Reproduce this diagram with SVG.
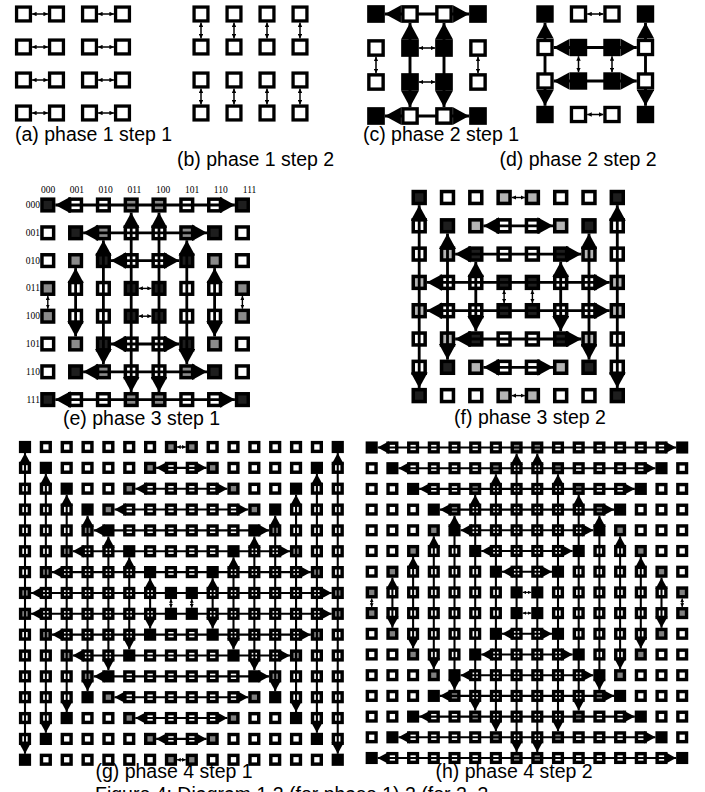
<svg xmlns="http://www.w3.org/2000/svg" width="705" height="792" viewBox="0 0 705 792">
<style>
text{font-family:"Liberation Sans",Arial,sans-serif;font-size:19.5px;fill:#000}
.lb{font-family:"Liberation Serif","Times New Roman",serif;font-size:9.5px}
.n use{fill:#fff;stroke:#000}
.n use.k{fill:#000}
.n use.g{fill:#808080}
#e use.k,#f use.k{fill:#1e1e1e}
#e use.g{fill:#8a8a8a}
#f use.g{fill:#b4b4b4}
.c line{stroke:#000;fill:none}
.d{marker-start:url(#h);marker-end:url(#h)}
.t{marker-start:url(#m);marker-end:url(#m)}
</style>
<defs>
<rect id="s" x="-.21" y="-.21" width=".42" height=".42"/>
<marker id="h" markerWidth="5.5" markerHeight="6" refX="5.5" refY="3" orient="auto-start-reverse"><path d="M0,0L5.5,3L0,6z"/></marker>
<marker id="m" markerWidth="3" markerHeight="3" refX="3" refY="1.5" orient="auto-start-reverse"><path d="M0,0L3,1.5L0,3z"/></marker>
</defs>
<rect width="705" height="792" fill="#fff"/>

<g id="a" transform="translate(23.5,14) scale(33)">
<g class="n" stroke-width=".1">
<g><use id="a0-0" href="#s"/><use id="a0-1" href="#s" x="1"/><use id="a0-2" href="#s" x="2"/><use id="a0-3" href="#s" x="3"/></g>
<g transform="translate(0,1)"><use id="a1-0" href="#s"/><use id="a1-1" href="#s" x="1"/><use id="a1-2" href="#s" x="2"/><use id="a1-3" href="#s" x="3"/></g>
<g transform="translate(0,2)"><use id="a2-0" href="#s"/><use id="a2-1" href="#s" x="1"/><use id="a2-2" href="#s" x="2"/><use id="a2-3" href="#s" x="3"/></g>
<g transform="translate(0,3)"><use id="a3-0" href="#s"/><use id="a3-1" href="#s" x="1"/><use id="a3-2" href="#s" x="2"/><use id="a3-3" href="#s" x="3"/></g>
</g>
<g class="c" stroke-width=".045">
<line class="t" x1=".26" y1="0" x2=".74" y2="0"/><line class="t" x1="2.26" y1="0" x2="2.74" y2="0"/>
<line class="t" x1=".26" y1="1" x2=".74" y2="1"/><line class="t" x1="2.26" y1="1" x2="2.74" y2="1"/>
<line class="t" x1=".26" y1="2" x2=".74" y2="2"/><line class="t" x1="2.26" y1="2" x2="2.74" y2="2"/>
<line class="t" x1=".26" y1="3" x2=".74" y2="3"/><line class="t" x1="2.26" y1="3" x2="2.74" y2="3"/>
</g>
</g>

<g id="b" transform="translate(201,14) scale(33)">
<g class="n" stroke-width=".1">
<g><use id="b0-0" href="#s"/><use id="b0-1" href="#s" x="1"/><use id="b0-2" href="#s" x="2"/><use id="b0-3" href="#s" x="3"/></g>
<g transform="translate(0,1)"><use id="b1-0" href="#s"/><use id="b1-1" href="#s" x="1"/><use id="b1-2" href="#s" x="2"/><use id="b1-3" href="#s" x="3"/></g>
<g transform="translate(0,2)"><use id="b2-0" href="#s"/><use id="b2-1" href="#s" x="1"/><use id="b2-2" href="#s" x="2"/><use id="b2-3" href="#s" x="3"/></g>
<g transform="translate(0,3)"><use id="b3-0" href="#s"/><use id="b3-1" href="#s" x="1"/><use id="b3-2" href="#s" x="2"/><use id="b3-3" href="#s" x="3"/></g>
</g>
<g class="c" stroke-width=".045">
<line class="t" x1="0" y1=".26" x2="0" y2=".74"/><line class="t" x1="0" y1="2.26" x2="0" y2="2.74"/>
<line class="t" x1="1" y1=".26" x2="1" y2=".74"/><line class="t" x1="1" y1="2.26" x2="1" y2="2.74"/>
<line class="t" x1="2" y1=".26" x2="2" y2=".74"/><line class="t" x1="2" y1="2.26" x2="2" y2="2.74"/>
<line class="t" x1="3" y1=".26" x2="3" y2=".74"/><line class="t" x1="3" y1="2.26" x2="3" y2="2.74"/>
</g>
</g>

<g id="c" transform="translate(376,14) scale(34)">
<g class="c" stroke-width=".086">
<line class="d" x1=".26" y1="0" x2="2.74" y2="0"/>
<line class="d" x1=".26" y1="3" x2="2.74" y2="3"/>
<line class="d" x1="1" y1=".26" x2="1" y2="2.74"/>
<line class="d" x1="2" y1=".26" x2="2" y2="2.74"/>
<g stroke-width=".045">
<line class="t" x1="1.26" y1="1" x2="1.74" y2="1"/><line class="t" x1="1.26" y1="2" x2="1.74" y2="2"/>
<line class="t" x1="0" y1="1.26" x2="0" y2="1.74"/><line class="t" x1="3" y1="1.26" x2="3" y2="1.74"/>
</g>
</g>
<g class="n" stroke-width=".1">
<g><use id="c0-0" href="#s" class="k"/><use id="c0-1" href="#s" x="1"/><use id="c0-2" href="#s" x="2"/><use id="c0-3" href="#s" x="3" class="k"/></g>
<g transform="translate(0,1)"><use id="c1-0" href="#s"/><use id="c1-1" href="#s" x="1" class="k"/><use id="c1-2" href="#s" x="2" class="k"/><use id="c1-3" href="#s" x="3"/></g>
<g transform="translate(0,2)"><use id="c2-0" href="#s"/><use id="c2-1" href="#s" x="1" class="k"/><use id="c2-2" href="#s" x="2" class="k"/><use id="c2-3" href="#s" x="3"/></g>
<g transform="translate(0,3)"><use id="c3-0" href="#s" class="k"/><use id="c3-1" href="#s" x="1"/><use id="c3-2" href="#s" x="2"/><use id="c3-3" href="#s" x="3" class="k"/></g>
</g>
</g>

<g id="d" transform="translate(545,14) scale(33.5)">
<g class="c" stroke-width=".086">
<line class="d" x1="0" y1=".26" x2="0" y2="2.74"/>
<line class="d" x1="3" y1=".26" x2="3" y2="2.74"/>
<line class="d" x1=".26" y1="1" x2="2.74" y2="1"/>
<line class="d" x1=".26" y1="2" x2="2.74" y2="2"/>
<g stroke-width=".045">
<line class="t" x1="1.26" y1="0" x2="1.74" y2="0"/><line class="t" x1="1.26" y1="3" x2="1.74" y2="3"/>
<line class="t" x1="1" y1="1.26" x2="1" y2="1.74"/><line class="t" x1="2" y1="1.26" x2="2" y2="1.74"/>
</g>
</g>
<g class="n" stroke-width=".1">
<g><use id="d0-0" href="#s" class="k"/><use id="d0-1" href="#s" x="1"/><use id="d0-2" href="#s" x="2"/><use id="d0-3" href="#s" x="3" class="k"/></g>
<g transform="translate(0,1)"><use id="d1-0" href="#s"/><use id="d1-1" href="#s" x="1" class="k"/><use id="d1-2" href="#s" x="2" class="k"/><use id="d1-3" href="#s" x="3"/></g>
<g transform="translate(0,2)"><use id="d2-0" href="#s"/><use id="d2-1" href="#s" x="1" class="k"/><use id="d2-2" href="#s" x="2" class="k"/><use id="d2-3" href="#s" x="3"/></g>
<g transform="translate(0,3)"><use id="d3-0" href="#s" class="k"/><use id="d3-1" href="#s" x="1"/><use id="d3-2" href="#s" x="2"/><use id="d3-3" href="#s" x="3" class="k"/></g>
</g>
</g>

<g id="elabels">
<text class="lb" x="48" y="193" text-anchor="middle">000</text>
<text class="lb" x="76.8" y="193" text-anchor="middle">001</text>
<text class="lb" x="105.6" y="193" text-anchor="middle">010</text>
<text class="lb" x="134.4" y="193" text-anchor="middle">011</text>
<text class="lb" x="163.2" y="193" text-anchor="middle">100</text>
<text class="lb" x="192" y="193" text-anchor="middle">101</text>
<text class="lb" x="220.8" y="193" text-anchor="middle">110</text>
<text class="lb" x="249.6" y="193" text-anchor="middle">111</text>
<text class="lb" x="40" y="208" text-anchor="end">000</text>
<text class="lb" x="40" y="235.8" text-anchor="end">001</text>
<text class="lb" x="40" y="263.6" text-anchor="end">010</text>
<text class="lb" x="40" y="291.4" text-anchor="end">011</text>
<text class="lb" x="40" y="319.2" text-anchor="end">100</text>
<text class="lb" x="40" y="347" text-anchor="end">101</text>
<text class="lb" x="40" y="374.8" text-anchor="end">110</text>
<text class="lb" x="40" y="402.6" text-anchor="end">111</text>
</g>

<g id="e" transform="translate(47.8,205) scale(27.8)">
<g class="n" stroke-width=".125">
<g><use id="e0-0" href="#s" class="k"/><use id="e0-1" href="#s" x="1"/><use id="e0-2" href="#s" x="2"/><use id="e0-3" href="#s" x="3" class="g"/><use id="e0-4" href="#s" x="4" class="g"/><use id="e0-5" href="#s" x="5"/><use id="e0-6" href="#s" x="6"/><use id="e0-7" href="#s" x="7" class="k"/></g>
<g transform="translate(0,1)"><use id="e1-0" href="#s"/><use id="e1-1" href="#s" x="1" class="k"/><use id="e1-2" href="#s" x="2" class="g"/><use id="e1-3" href="#s" x="3"/><use id="e1-4" href="#s" x="4"/><use id="e1-5" href="#s" x="5" class="g"/><use id="e1-6" href="#s" x="6" class="k"/><use id="e1-7" href="#s" x="7"/></g>
<g transform="translate(0,2)"><use id="e2-0" href="#s"/><use id="e2-1" href="#s" x="1" class="g"/><use id="e2-2" href="#s" x="2" class="k"/><use id="e2-3" href="#s" x="3"/><use id="e2-4" href="#s" x="4"/><use id="e2-5" href="#s" x="5" class="k"/><use id="e2-6" href="#s" x="6" class="g"/><use id="e2-7" href="#s" x="7"/></g>
<g transform="translate(0,3)"><use id="e3-0" href="#s" class="g"/><use id="e3-1" href="#s" x="1"/><use id="e3-2" href="#s" x="2"/><use id="e3-3" href="#s" x="3" class="k"/><use id="e3-4" href="#s" x="4" class="k"/><use id="e3-5" href="#s" x="5"/><use id="e3-6" href="#s" x="6"/><use id="e3-7" href="#s" x="7" class="g"/></g>
<g transform="translate(0,4)"><use id="e4-0" href="#s" class="g"/><use id="e4-1" href="#s" x="1"/><use id="e4-2" href="#s" x="2"/><use id="e4-3" href="#s" x="3" class="k"/><use id="e4-4" href="#s" x="4" class="k"/><use id="e4-5" href="#s" x="5"/><use id="e4-6" href="#s" x="6"/><use id="e4-7" href="#s" x="7" class="g"/></g>
<g transform="translate(0,5)"><use id="e5-0" href="#s"/><use id="e5-1" href="#s" x="1" class="g"/><use id="e5-2" href="#s" x="2" class="k"/><use id="e5-3" href="#s" x="3"/><use id="e5-4" href="#s" x="4"/><use id="e5-5" href="#s" x="5" class="k"/><use id="e5-6" href="#s" x="6" class="g"/><use id="e5-7" href="#s" x="7"/></g>
<g transform="translate(0,6)"><use id="e6-0" href="#s"/><use id="e6-1" href="#s" x="1" class="k"/><use id="e6-2" href="#s" x="2" class="g"/><use id="e6-3" href="#s" x="3"/><use id="e6-4" href="#s" x="4"/><use id="e6-5" href="#s" x="5" class="g"/><use id="e6-6" href="#s" x="6" class="k"/><use id="e6-7" href="#s" x="7"/></g>
<g transform="translate(0,7)"><use id="e7-0" href="#s" class="k"/><use id="e7-1" href="#s" x="1"/><use id="e7-2" href="#s" x="2"/><use id="e7-3" href="#s" x="3" class="g"/><use id="e7-4" href="#s" x="4" class="g"/><use id="e7-5" href="#s" x="5"/><use id="e7-6" href="#s" x="6"/><use id="e7-7" href="#s" x="7" class="k"/></g>
</g>
<g class="c" stroke-width=".1">
<line class="d" x1=".27" y1="0" x2="6.73" y2="0"/>
<line class="d" x1="1.27" y1="1" x2="5.73" y2="1"/>
<line class="d" x1="2.27" y1="2" x2="4.73" y2="2"/>
<line class="d" x1="2.27" y1="5" x2="4.73" y2="5"/>
<line class="d" x1="1.27" y1="6" x2="5.73" y2="6"/>
<line class="d" x1=".27" y1="7" x2="6.73" y2="7"/>
<line class="d" x1="1" y1="2.27" x2="1" y2="4.73"/>
<line class="d" x1="2" y1="1.27" x2="2" y2="5.73"/>
<line class="d" x1="3" y1=".27" x2="3" y2="6.73"/>
<line class="d" x1="4" y1=".27" x2="4" y2="6.73"/>
<line class="d" x1="5" y1="1.27" x2="5" y2="5.73"/>
<line class="d" x1="6" y1="2.27" x2="6" y2="4.73"/>
<g stroke-width=".05">
<line class="t" x1="3.27" y1="3" x2="3.73" y2="3"/><line class="t" x1="3.27" y1="4" x2="3.73" y2="4"/>
<line class="t" x1="0" y1="3.27" x2="0" y2="3.73"/><line class="t" x1="7" y1="3.27" x2="7" y2="3.73"/>
</g>
</g>
</g>

<g id="f" transform="translate(419.2,197.5) scale(28.3)">
<g class="n" stroke-width=".125">
<g><use id="f0-0" href="#s" class="k"/><use id="f0-1" href="#s" x="1"/><use id="f0-2" href="#s" x="2"/><use id="f0-3" href="#s" x="3" class="g"/><use id="f0-4" href="#s" x="4" class="g"/><use id="f0-5" href="#s" x="5"/><use id="f0-6" href="#s" x="6"/><use id="f0-7" href="#s" x="7" class="k"/></g>
<g transform="translate(0,1)"><use id="f1-0" href="#s"/><use id="f1-1" href="#s" x="1" class="k"/><use id="f1-2" href="#s" x="2" class="g"/><use id="f1-3" href="#s" x="3"/><use id="f1-4" href="#s" x="4"/><use id="f1-5" href="#s" x="5" class="g"/><use id="f1-6" href="#s" x="6" class="k"/><use id="f1-7" href="#s" x="7"/></g>
<g transform="translate(0,2)"><use id="f2-0" href="#s"/><use id="f2-1" href="#s" x="1" class="g"/><use id="f2-2" href="#s" x="2" class="k"/><use id="f2-3" href="#s" x="3"/><use id="f2-4" href="#s" x="4"/><use id="f2-5" href="#s" x="5" class="k"/><use id="f2-6" href="#s" x="6" class="g"/><use id="f2-7" href="#s" x="7"/></g>
<g transform="translate(0,3)"><use id="f3-0" href="#s" class="g"/><use id="f3-1" href="#s" x="1"/><use id="f3-2" href="#s" x="2"/><use id="f3-3" href="#s" x="3" class="k"/><use id="f3-4" href="#s" x="4" class="k"/><use id="f3-5" href="#s" x="5"/><use id="f3-6" href="#s" x="6"/><use id="f3-7" href="#s" x="7" class="g"/></g>
<g transform="translate(0,4)"><use id="f4-0" href="#s" class="g"/><use id="f4-1" href="#s" x="1"/><use id="f4-2" href="#s" x="2"/><use id="f4-3" href="#s" x="3" class="k"/><use id="f4-4" href="#s" x="4" class="k"/><use id="f4-5" href="#s" x="5"/><use id="f4-6" href="#s" x="6"/><use id="f4-7" href="#s" x="7" class="g"/></g>
<g transform="translate(0,5)"><use id="f5-0" href="#s"/><use id="f5-1" href="#s" x="1" class="g"/><use id="f5-2" href="#s" x="2" class="k"/><use id="f5-3" href="#s" x="3"/><use id="f5-4" href="#s" x="4"/><use id="f5-5" href="#s" x="5" class="k"/><use id="f5-6" href="#s" x="6" class="g"/><use id="f5-7" href="#s" x="7"/></g>
<g transform="translate(0,6)"><use id="f6-0" href="#s"/><use id="f6-1" href="#s" x="1" class="k"/><use id="f6-2" href="#s" x="2" class="g"/><use id="f6-3" href="#s" x="3"/><use id="f6-4" href="#s" x="4"/><use id="f6-5" href="#s" x="5" class="g"/><use id="f6-6" href="#s" x="6" class="k"/><use id="f6-7" href="#s" x="7"/></g>
<g transform="translate(0,7)"><use id="f7-0" href="#s" class="k"/><use id="f7-1" href="#s" x="1"/><use id="f7-2" href="#s" x="2"/><use id="f7-3" href="#s" x="3" class="g"/><use id="f7-4" href="#s" x="4" class="g"/><use id="f7-5" href="#s" x="5"/><use id="f7-6" href="#s" x="6"/><use id="f7-7" href="#s" x="7" class="k"/></g>
</g>
<g class="c" stroke-width=".1">
<line class="d" x1="0" y1=".27" x2="0" y2="6.73"/>
<line class="d" x1="1" y1="1.27" x2="1" y2="5.73"/>
<line class="d" x1="2" y1="2.27" x2="2" y2="4.73"/>
<line class="d" x1="5" y1="2.27" x2="5" y2="4.73"/>
<line class="d" x1="6" y1="1.27" x2="6" y2="5.73"/>
<line class="d" x1="7" y1=".27" x2="7" y2="6.73"/>
<line class="d" x1="2.27" y1="1" x2="4.73" y2="1"/>
<line class="d" x1="1.27" y1="2" x2="5.73" y2="2"/>
<line class="d" x1=".27" y1="3" x2="6.73" y2="3"/>
<line class="d" x1=".27" y1="4" x2="6.73" y2="4"/>
<line class="d" x1="1.27" y1="5" x2="5.73" y2="5"/>
<line class="d" x1="2.27" y1="6" x2="4.73" y2="6"/>
<g stroke-width=".05">
<line class="t" x1="3" y1="3.27" x2="3" y2="3.73"/><line class="t" x1="4" y1="3.27" x2="4" y2="3.73"/>
<line class="t" x1="3.27" y1="0" x2="3.73" y2="0"/><line class="t" x1="3.27" y1="7" x2="3.73" y2="7"/>
</g>
</g>
</g>

<g id="g" transform="translate(25,447) scale(20.85)">
<g class="n" stroke-width=".165">
<g><use id="g0-0" href="#s" class="k"/><use id="g0-1" href="#s" x="1"/><use id="g0-2" href="#s" x="2"/><use id="g0-3" href="#s" x="3"/><use id="g0-4" href="#s" x="4"/><use id="g0-5" href="#s" x="5"/><use id="g0-6" href="#s" x="6"/><use id="g0-7" href="#s" x="7" class="g"/><use id="g0-8" href="#s" x="8" class="g"/><use id="g0-9" href="#s" x="9"/><use id="g0-10" href="#s" x="10"/><use id="g0-11" href="#s" x="11"/><use id="g0-12" href="#s" x="12"/><use id="g0-13" href="#s" x="13"/><use id="g0-14" href="#s" x="14"/><use id="g0-15" href="#s" x="15" class="k"/></g>
<g transform="translate(0,1)"><use id="g1-0" href="#s"/><use id="g1-1" href="#s" x="1" class="k"/><use id="g1-2" href="#s" x="2"/><use id="g1-3" href="#s" x="3"/><use id="g1-4" href="#s" x="4"/><use id="g1-5" href="#s" x="5"/><use id="g1-6" href="#s" x="6" class="g"/><use id="g1-7" href="#s" x="7"/><use id="g1-8" href="#s" x="8"/><use id="g1-9" href="#s" x="9" class="g"/><use id="g1-10" href="#s" x="10"/><use id="g1-11" href="#s" x="11"/><use id="g1-12" href="#s" x="12"/><use id="g1-13" href="#s" x="13"/><use id="g1-14" href="#s" x="14" class="k"/><use id="g1-15" href="#s" x="15"/></g>
<g transform="translate(0,2)"><use id="g2-0" href="#s"/><use id="g2-1" href="#s" x="1"/><use id="g2-2" href="#s" x="2" class="k"/><use id="g2-3" href="#s" x="3"/><use id="g2-4" href="#s" x="4"/><use id="g2-5" href="#s" x="5" class="g"/><use id="g2-6" href="#s" x="6"/><use id="g2-7" href="#s" x="7"/><use id="g2-8" href="#s" x="8"/><use id="g2-9" href="#s" x="9"/><use id="g2-10" href="#s" x="10" class="g"/><use id="g2-11" href="#s" x="11"/><use id="g2-12" href="#s" x="12"/><use id="g2-13" href="#s" x="13" class="k"/><use id="g2-14" href="#s" x="14"/><use id="g2-15" href="#s" x="15"/></g>
<g transform="translate(0,3)"><use id="g3-0" href="#s"/><use id="g3-1" href="#s" x="1"/><use id="g3-2" href="#s" x="2"/><use id="g3-3" href="#s" x="3" class="k"/><use id="g3-4" href="#s" x="4" class="g"/><use id="g3-5" href="#s" x="5"/><use id="g3-6" href="#s" x="6"/><use id="g3-7" href="#s" x="7"/><use id="g3-8" href="#s" x="8"/><use id="g3-9" href="#s" x="9"/><use id="g3-10" href="#s" x="10"/><use id="g3-11" href="#s" x="11" class="g"/><use id="g3-12" href="#s" x="12" class="k"/><use id="g3-13" href="#s" x="13"/><use id="g3-14" href="#s" x="14"/><use id="g3-15" href="#s" x="15"/></g>
<g transform="translate(0,4)"><use id="g4-0" href="#s"/><use id="g4-1" href="#s" x="1"/><use id="g4-2" href="#s" x="2"/><use id="g4-3" href="#s" x="3" class="g"/><use id="g4-4" href="#s" x="4" class="k"/><use id="g4-5" href="#s" x="5"/><use id="g4-6" href="#s" x="6"/><use id="g4-7" href="#s" x="7"/><use id="g4-8" href="#s" x="8"/><use id="g4-9" href="#s" x="9"/><use id="g4-10" href="#s" x="10"/><use id="g4-11" href="#s" x="11" class="k"/><use id="g4-12" href="#s" x="12" class="g"/><use id="g4-13" href="#s" x="13"/><use id="g4-14" href="#s" x="14"/><use id="g4-15" href="#s" x="15"/></g>
<g transform="translate(0,5)"><use id="g5-0" href="#s"/><use id="g5-1" href="#s" x="1"/><use id="g5-2" href="#s" x="2" class="g"/><use id="g5-3" href="#s" x="3"/><use id="g5-4" href="#s" x="4"/><use id="g5-5" href="#s" x="5" class="k"/><use id="g5-6" href="#s" x="6"/><use id="g5-7" href="#s" x="7"/><use id="g5-8" href="#s" x="8"/><use id="g5-9" href="#s" x="9"/><use id="g5-10" href="#s" x="10" class="k"/><use id="g5-11" href="#s" x="11"/><use id="g5-12" href="#s" x="12"/><use id="g5-13" href="#s" x="13" class="g"/><use id="g5-14" href="#s" x="14"/><use id="g5-15" href="#s" x="15"/></g>
<g transform="translate(0,6)"><use id="g6-0" href="#s"/><use id="g6-1" href="#s" x="1" class="g"/><use id="g6-2" href="#s" x="2"/><use id="g6-3" href="#s" x="3"/><use id="g6-4" href="#s" x="4"/><use id="g6-5" href="#s" x="5"/><use id="g6-6" href="#s" x="6" class="k"/><use id="g6-7" href="#s" x="7"/><use id="g6-8" href="#s" x="8"/><use id="g6-9" href="#s" x="9" class="k"/><use id="g6-10" href="#s" x="10"/><use id="g6-11" href="#s" x="11"/><use id="g6-12" href="#s" x="12"/><use id="g6-13" href="#s" x="13"/><use id="g6-14" href="#s" x="14" class="g"/><use id="g6-15" href="#s" x="15"/></g>
<g transform="translate(0,7)"><use id="g7-0" href="#s" class="g"/><use id="g7-1" href="#s" x="1"/><use id="g7-2" href="#s" x="2"/><use id="g7-3" href="#s" x="3"/><use id="g7-4" href="#s" x="4"/><use id="g7-5" href="#s" x="5"/><use id="g7-6" href="#s" x="6"/><use id="g7-7" href="#s" x="7" class="k"/><use id="g7-8" href="#s" x="8" class="k"/><use id="g7-9" href="#s" x="9"/><use id="g7-10" href="#s" x="10"/><use id="g7-11" href="#s" x="11"/><use id="g7-12" href="#s" x="12"/><use id="g7-13" href="#s" x="13"/><use id="g7-14" href="#s" x="14"/><use id="g7-15" href="#s" x="15" class="g"/></g>
<g transform="translate(0,8)"><use id="g8-0" href="#s" class="g"/><use id="g8-1" href="#s" x="1"/><use id="g8-2" href="#s" x="2"/><use id="g8-3" href="#s" x="3"/><use id="g8-4" href="#s" x="4"/><use id="g8-5" href="#s" x="5"/><use id="g8-6" href="#s" x="6"/><use id="g8-7" href="#s" x="7" class="k"/><use id="g8-8" href="#s" x="8" class="k"/><use id="g8-9" href="#s" x="9"/><use id="g8-10" href="#s" x="10"/><use id="g8-11" href="#s" x="11"/><use id="g8-12" href="#s" x="12"/><use id="g8-13" href="#s" x="13"/><use id="g8-14" href="#s" x="14"/><use id="g8-15" href="#s" x="15" class="g"/></g>
<g transform="translate(0,9)"><use id="g9-0" href="#s"/><use id="g9-1" href="#s" x="1" class="g"/><use id="g9-2" href="#s" x="2"/><use id="g9-3" href="#s" x="3"/><use id="g9-4" href="#s" x="4"/><use id="g9-5" href="#s" x="5"/><use id="g9-6" href="#s" x="6" class="k"/><use id="g9-7" href="#s" x="7"/><use id="g9-8" href="#s" x="8"/><use id="g9-9" href="#s" x="9" class="k"/><use id="g9-10" href="#s" x="10"/><use id="g9-11" href="#s" x="11"/><use id="g9-12" href="#s" x="12"/><use id="g9-13" href="#s" x="13"/><use id="g9-14" href="#s" x="14" class="g"/><use id="g9-15" href="#s" x="15"/></g>
<g transform="translate(0,10)"><use id="g10-0" href="#s"/><use id="g10-1" href="#s" x="1"/><use id="g10-2" href="#s" x="2" class="g"/><use id="g10-3" href="#s" x="3"/><use id="g10-4" href="#s" x="4"/><use id="g10-5" href="#s" x="5" class="k"/><use id="g10-6" href="#s" x="6"/><use id="g10-7" href="#s" x="7"/><use id="g10-8" href="#s" x="8"/><use id="g10-9" href="#s" x="9"/><use id="g10-10" href="#s" x="10" class="k"/><use id="g10-11" href="#s" x="11"/><use id="g10-12" href="#s" x="12"/><use id="g10-13" href="#s" x="13" class="g"/><use id="g10-14" href="#s" x="14"/><use id="g10-15" href="#s" x="15"/></g>
<g transform="translate(0,11)"><use id="g11-0" href="#s"/><use id="g11-1" href="#s" x="1"/><use id="g11-2" href="#s" x="2"/><use id="g11-3" href="#s" x="3" class="g"/><use id="g11-4" href="#s" x="4" class="k"/><use id="g11-5" href="#s" x="5"/><use id="g11-6" href="#s" x="6"/><use id="g11-7" href="#s" x="7"/><use id="g11-8" href="#s" x="8"/><use id="g11-9" href="#s" x="9"/><use id="g11-10" href="#s" x="10"/><use id="g11-11" href="#s" x="11" class="k"/><use id="g11-12" href="#s" x="12" class="g"/><use id="g11-13" href="#s" x="13"/><use id="g11-14" href="#s" x="14"/><use id="g11-15" href="#s" x="15"/></g>
<g transform="translate(0,12)"><use id="g12-0" href="#s"/><use id="g12-1" href="#s" x="1"/><use id="g12-2" href="#s" x="2"/><use id="g12-3" href="#s" x="3" class="k"/><use id="g12-4" href="#s" x="4" class="g"/><use id="g12-5" href="#s" x="5"/><use id="g12-6" href="#s" x="6"/><use id="g12-7" href="#s" x="7"/><use id="g12-8" href="#s" x="8"/><use id="g12-9" href="#s" x="9"/><use id="g12-10" href="#s" x="10"/><use id="g12-11" href="#s" x="11" class="g"/><use id="g12-12" href="#s" x="12" class="k"/><use id="g12-13" href="#s" x="13"/><use id="g12-14" href="#s" x="14"/><use id="g12-15" href="#s" x="15"/></g>
<g transform="translate(0,13)"><use id="g13-0" href="#s"/><use id="g13-1" href="#s" x="1"/><use id="g13-2" href="#s" x="2" class="k"/><use id="g13-3" href="#s" x="3"/><use id="g13-4" href="#s" x="4"/><use id="g13-5" href="#s" x="5" class="g"/><use id="g13-6" href="#s" x="6"/><use id="g13-7" href="#s" x="7"/><use id="g13-8" href="#s" x="8"/><use id="g13-9" href="#s" x="9"/><use id="g13-10" href="#s" x="10" class="g"/><use id="g13-11" href="#s" x="11"/><use id="g13-12" href="#s" x="12"/><use id="g13-13" href="#s" x="13" class="k"/><use id="g13-14" href="#s" x="14"/><use id="g13-15" href="#s" x="15"/></g>
<g transform="translate(0,14)"><use id="g14-0" href="#s"/><use id="g14-1" href="#s" x="1" class="k"/><use id="g14-2" href="#s" x="2"/><use id="g14-3" href="#s" x="3"/><use id="g14-4" href="#s" x="4"/><use id="g14-5" href="#s" x="5"/><use id="g14-6" href="#s" x="6" class="g"/><use id="g14-7" href="#s" x="7"/><use id="g14-8" href="#s" x="8"/><use id="g14-9" href="#s" x="9" class="g"/><use id="g14-10" href="#s" x="10"/><use id="g14-11" href="#s" x="11"/><use id="g14-12" href="#s" x="12"/><use id="g14-13" href="#s" x="13"/><use id="g14-14" href="#s" x="14" class="k"/><use id="g14-15" href="#s" x="15"/></g>
<g transform="translate(0,15)"><use id="g15-0" href="#s" class="k"/><use id="g15-1" href="#s" x="1"/><use id="g15-2" href="#s" x="2"/><use id="g15-3" href="#s" x="3"/><use id="g15-4" href="#s" x="4"/><use id="g15-5" href="#s" x="5"/><use id="g15-6" href="#s" x="6"/><use id="g15-7" href="#s" x="7" class="g"/><use id="g15-8" href="#s" x="8" class="g"/><use id="g15-9" href="#s" x="9"/><use id="g15-10" href="#s" x="10"/><use id="g15-11" href="#s" x="11"/><use id="g15-12" href="#s" x="12"/><use id="g15-13" href="#s" x="13"/><use id="g15-14" href="#s" x="14"/><use id="g15-15" href="#s" x="15" class="k"/></g>
</g>
<g class="c" stroke-width=".1">
<line class="d" x1="0" y1=".29" x2="0" y2="14.71"/>
<line class="d" x1="1" y1="1.29" x2="1" y2="13.71"/>
<line class="d" x1="2" y1="2.29" x2="2" y2="12.71"/>
<line class="d" x1="3" y1="3.29" x2="3" y2="11.71"/>
<line class="d" x1="4" y1="4.29" x2="4" y2="10.71"/>
<line class="d" x1="5" y1="5.29" x2="5" y2="9.71"/>
<line class="d" x1="6" y1="6.29" x2="6" y2="8.71"/>
<line class="d" x1="9" y1="6.29" x2="9" y2="8.71"/>
<line class="d" x1="10" y1="5.29" x2="10" y2="9.71"/>
<line class="d" x1="11" y1="4.29" x2="11" y2="10.71"/>
<line class="d" x1="12" y1="3.29" x2="12" y2="11.71"/>
<line class="d" x1="13" y1="2.29" x2="13" y2="12.71"/>
<line class="d" x1="14" y1="1.29" x2="14" y2="13.71"/>
<line class="d" x1="15" y1=".29" x2="15" y2="14.71"/>
<line class="d" x1="6.29" y1="1" x2="8.71" y2="1"/>
<line class="d" x1="5.29" y1="2" x2="9.71" y2="2"/>
<line class="d" x1="4.29" y1="3" x2="10.71" y2="3"/>
<line class="d" x1="3.29" y1="4" x2="11.71" y2="4"/>
<line class="d" x1="2.29" y1="5" x2="12.71" y2="5"/>
<line class="d" x1="1.29" y1="6" x2="13.71" y2="6"/>
<line class="d" x1=".29" y1="7" x2="14.71" y2="7"/>
<line class="d" x1=".29" y1="8" x2="14.71" y2="8"/>
<line class="d" x1="1.29" y1="9" x2="13.71" y2="9"/>
<line class="d" x1="2.29" y1="10" x2="12.71" y2="10"/>
<line class="d" x1="3.29" y1="11" x2="11.71" y2="11"/>
<line class="d" x1="4.29" y1="12" x2="10.71" y2="12"/>
<line class="d" x1="5.29" y1="13" x2="9.71" y2="13"/>
<line class="d" x1="6.29" y1="14" x2="8.71" y2="14"/>
<g stroke-width=".06">
<line class="t" x1="7.29" y1="0" x2="7.71" y2="0"/><line class="t" x1="7.29" y1="15" x2="7.71" y2="15"/>
<line class="t" x1="7" y1="7.29" x2="7" y2="7.71"/><line class="t" x1="8" y1="7.29" x2="8" y2="7.71"/>
</g>
</g>
</g>

<g id="h" transform="translate(371.7,447.5) scale(20.7)">
<g class="n" stroke-width=".165">
<g><use id="h0-0" href="#s" class="k"/><use id="h0-1" href="#s" x="1"/><use id="h0-2" href="#s" x="2"/><use id="h0-3" href="#s" x="3"/><use id="h0-4" href="#s" x="4"/><use id="h0-5" href="#s" x="5"/><use id="h0-6" href="#s" x="6"/><use id="h0-7" href="#s" x="7" class="g"/><use id="h0-8" href="#s" x="8" class="g"/><use id="h0-9" href="#s" x="9"/><use id="h0-10" href="#s" x="10"/><use id="h0-11" href="#s" x="11"/><use id="h0-12" href="#s" x="12"/><use id="h0-13" href="#s" x="13"/><use id="h0-14" href="#s" x="14"/><use id="h0-15" href="#s" x="15" class="k"/></g>
<g transform="translate(0,1)"><use id="h1-0" href="#s"/><use id="h1-1" href="#s" x="1" class="k"/><use id="h1-2" href="#s" x="2"/><use id="h1-3" href="#s" x="3"/><use id="h1-4" href="#s" x="4"/><use id="h1-5" href="#s" x="5"/><use id="h1-6" href="#s" x="6" class="g"/><use id="h1-7" href="#s" x="7"/><use id="h1-8" href="#s" x="8"/><use id="h1-9" href="#s" x="9" class="g"/><use id="h1-10" href="#s" x="10"/><use id="h1-11" href="#s" x="11"/><use id="h1-12" href="#s" x="12"/><use id="h1-13" href="#s" x="13"/><use id="h1-14" href="#s" x="14" class="k"/><use id="h1-15" href="#s" x="15"/></g>
<g transform="translate(0,2)"><use id="h2-0" href="#s"/><use id="h2-1" href="#s" x="1"/><use id="h2-2" href="#s" x="2" class="k"/><use id="h2-3" href="#s" x="3"/><use id="h2-4" href="#s" x="4"/><use id="h2-5" href="#s" x="5" class="g"/><use id="h2-6" href="#s" x="6"/><use id="h2-7" href="#s" x="7"/><use id="h2-8" href="#s" x="8"/><use id="h2-9" href="#s" x="9"/><use id="h2-10" href="#s" x="10" class="g"/><use id="h2-11" href="#s" x="11"/><use id="h2-12" href="#s" x="12"/><use id="h2-13" href="#s" x="13" class="k"/><use id="h2-14" href="#s" x="14"/><use id="h2-15" href="#s" x="15"/></g>
<g transform="translate(0,3)"><use id="h3-0" href="#s"/><use id="h3-1" href="#s" x="1"/><use id="h3-2" href="#s" x="2"/><use id="h3-3" href="#s" x="3" class="k"/><use id="h3-4" href="#s" x="4" class="g"/><use id="h3-5" href="#s" x="5"/><use id="h3-6" href="#s" x="6"/><use id="h3-7" href="#s" x="7"/><use id="h3-8" href="#s" x="8"/><use id="h3-9" href="#s" x="9"/><use id="h3-10" href="#s" x="10"/><use id="h3-11" href="#s" x="11" class="g"/><use id="h3-12" href="#s" x="12" class="k"/><use id="h3-13" href="#s" x="13"/><use id="h3-14" href="#s" x="14"/><use id="h3-15" href="#s" x="15"/></g>
<g transform="translate(0,4)"><use id="h4-0" href="#s"/><use id="h4-1" href="#s" x="1"/><use id="h4-2" href="#s" x="2"/><use id="h4-3" href="#s" x="3" class="g"/><use id="h4-4" href="#s" x="4" class="k"/><use id="h4-5" href="#s" x="5"/><use id="h4-6" href="#s" x="6"/><use id="h4-7" href="#s" x="7"/><use id="h4-8" href="#s" x="8"/><use id="h4-9" href="#s" x="9"/><use id="h4-10" href="#s" x="10"/><use id="h4-11" href="#s" x="11" class="k"/><use id="h4-12" href="#s" x="12" class="g"/><use id="h4-13" href="#s" x="13"/><use id="h4-14" href="#s" x="14"/><use id="h4-15" href="#s" x="15"/></g>
<g transform="translate(0,5)"><use id="h5-0" href="#s"/><use id="h5-1" href="#s" x="1"/><use id="h5-2" href="#s" x="2" class="g"/><use id="h5-3" href="#s" x="3"/><use id="h5-4" href="#s" x="4"/><use id="h5-5" href="#s" x="5" class="k"/><use id="h5-6" href="#s" x="6"/><use id="h5-7" href="#s" x="7"/><use id="h5-8" href="#s" x="8"/><use id="h5-9" href="#s" x="9"/><use id="h5-10" href="#s" x="10" class="k"/><use id="h5-11" href="#s" x="11"/><use id="h5-12" href="#s" x="12"/><use id="h5-13" href="#s" x="13" class="g"/><use id="h5-14" href="#s" x="14"/><use id="h5-15" href="#s" x="15"/></g>
<g transform="translate(0,6)"><use id="h6-0" href="#s"/><use id="h6-1" href="#s" x="1" class="g"/><use id="h6-2" href="#s" x="2"/><use id="h6-3" href="#s" x="3"/><use id="h6-4" href="#s" x="4"/><use id="h6-5" href="#s" x="5"/><use id="h6-6" href="#s" x="6" class="k"/><use id="h6-7" href="#s" x="7"/><use id="h6-8" href="#s" x="8"/><use id="h6-9" href="#s" x="9" class="k"/><use id="h6-10" href="#s" x="10"/><use id="h6-11" href="#s" x="11"/><use id="h6-12" href="#s" x="12"/><use id="h6-13" href="#s" x="13"/><use id="h6-14" href="#s" x="14" class="g"/><use id="h6-15" href="#s" x="15"/></g>
<g transform="translate(0,7)"><use id="h7-0" href="#s" class="g"/><use id="h7-1" href="#s" x="1"/><use id="h7-2" href="#s" x="2"/><use id="h7-3" href="#s" x="3"/><use id="h7-4" href="#s" x="4"/><use id="h7-5" href="#s" x="5"/><use id="h7-6" href="#s" x="6"/><use id="h7-7" href="#s" x="7" class="k"/><use id="h7-8" href="#s" x="8" class="k"/><use id="h7-9" href="#s" x="9"/><use id="h7-10" href="#s" x="10"/><use id="h7-11" href="#s" x="11"/><use id="h7-12" href="#s" x="12"/><use id="h7-13" href="#s" x="13"/><use id="h7-14" href="#s" x="14"/><use id="h7-15" href="#s" x="15" class="g"/></g>
<g transform="translate(0,8)"><use id="h8-0" href="#s" class="g"/><use id="h8-1" href="#s" x="1"/><use id="h8-2" href="#s" x="2"/><use id="h8-3" href="#s" x="3"/><use id="h8-4" href="#s" x="4"/><use id="h8-5" href="#s" x="5"/><use id="h8-6" href="#s" x="6"/><use id="h8-7" href="#s" x="7" class="k"/><use id="h8-8" href="#s" x="8" class="k"/><use id="h8-9" href="#s" x="9"/><use id="h8-10" href="#s" x="10"/><use id="h8-11" href="#s" x="11"/><use id="h8-12" href="#s" x="12"/><use id="h8-13" href="#s" x="13"/><use id="h8-14" href="#s" x="14"/><use id="h8-15" href="#s" x="15" class="g"/></g>
<g transform="translate(0,9)"><use id="h9-0" href="#s"/><use id="h9-1" href="#s" x="1" class="g"/><use id="h9-2" href="#s" x="2"/><use id="h9-3" href="#s" x="3"/><use id="h9-4" href="#s" x="4"/><use id="h9-5" href="#s" x="5"/><use id="h9-6" href="#s" x="6" class="k"/><use id="h9-7" href="#s" x="7"/><use id="h9-8" href="#s" x="8"/><use id="h9-9" href="#s" x="9" class="k"/><use id="h9-10" href="#s" x="10"/><use id="h9-11" href="#s" x="11"/><use id="h9-12" href="#s" x="12"/><use id="h9-13" href="#s" x="13"/><use id="h9-14" href="#s" x="14" class="g"/><use id="h9-15" href="#s" x="15"/></g>
<g transform="translate(0,10)"><use id="h10-0" href="#s"/><use id="h10-1" href="#s" x="1"/><use id="h10-2" href="#s" x="2" class="g"/><use id="h10-3" href="#s" x="3"/><use id="h10-4" href="#s" x="4"/><use id="h10-5" href="#s" x="5" class="k"/><use id="h10-6" href="#s" x="6"/><use id="h10-7" href="#s" x="7"/><use id="h10-8" href="#s" x="8"/><use id="h10-9" href="#s" x="9"/><use id="h10-10" href="#s" x="10" class="k"/><use id="h10-11" href="#s" x="11"/><use id="h10-12" href="#s" x="12"/><use id="h10-13" href="#s" x="13" class="g"/><use id="h10-14" href="#s" x="14"/><use id="h10-15" href="#s" x="15"/></g>
<g transform="translate(0,11)"><use id="h11-0" href="#s"/><use id="h11-1" href="#s" x="1"/><use id="h11-2" href="#s" x="2"/><use id="h11-3" href="#s" x="3" class="g"/><use id="h11-4" href="#s" x="4" class="k"/><use id="h11-5" href="#s" x="5"/><use id="h11-6" href="#s" x="6"/><use id="h11-7" href="#s" x="7"/><use id="h11-8" href="#s" x="8"/><use id="h11-9" href="#s" x="9"/><use id="h11-10" href="#s" x="10"/><use id="h11-11" href="#s" x="11" class="k"/><use id="h11-12" href="#s" x="12" class="g"/><use id="h11-13" href="#s" x="13"/><use id="h11-14" href="#s" x="14"/><use id="h11-15" href="#s" x="15"/></g>
<g transform="translate(0,12)"><use id="h12-0" href="#s"/><use id="h12-1" href="#s" x="1"/><use id="h12-2" href="#s" x="2"/><use id="h12-3" href="#s" x="3" class="k"/><use id="h12-4" href="#s" x="4" class="g"/><use id="h12-5" href="#s" x="5"/><use id="h12-6" href="#s" x="6"/><use id="h12-7" href="#s" x="7"/><use id="h12-8" href="#s" x="8"/><use id="h12-9" href="#s" x="9"/><use id="h12-10" href="#s" x="10"/><use id="h12-11" href="#s" x="11" class="g"/><use id="h12-12" href="#s" x="12" class="k"/><use id="h12-13" href="#s" x="13"/><use id="h12-14" href="#s" x="14"/><use id="h12-15" href="#s" x="15"/></g>
<g transform="translate(0,13)"><use id="h13-0" href="#s"/><use id="h13-1" href="#s" x="1"/><use id="h13-2" href="#s" x="2" class="k"/><use id="h13-3" href="#s" x="3"/><use id="h13-4" href="#s" x="4"/><use id="h13-5" href="#s" x="5" class="g"/><use id="h13-6" href="#s" x="6"/><use id="h13-7" href="#s" x="7"/><use id="h13-8" href="#s" x="8"/><use id="h13-9" href="#s" x="9"/><use id="h13-10" href="#s" x="10" class="g"/><use id="h13-11" href="#s" x="11"/><use id="h13-12" href="#s" x="12"/><use id="h13-13" href="#s" x="13" class="k"/><use id="h13-14" href="#s" x="14"/><use id="h13-15" href="#s" x="15"/></g>
<g transform="translate(0,14)"><use id="h14-0" href="#s"/><use id="h14-1" href="#s" x="1" class="k"/><use id="h14-2" href="#s" x="2"/><use id="h14-3" href="#s" x="3"/><use id="h14-4" href="#s" x="4"/><use id="h14-5" href="#s" x="5"/><use id="h14-6" href="#s" x="6" class="g"/><use id="h14-7" href="#s" x="7"/><use id="h14-8" href="#s" x="8"/><use id="h14-9" href="#s" x="9" class="g"/><use id="h14-10" href="#s" x="10"/><use id="h14-11" href="#s" x="11"/><use id="h14-12" href="#s" x="12"/><use id="h14-13" href="#s" x="13"/><use id="h14-14" href="#s" x="14" class="k"/><use id="h14-15" href="#s" x="15"/></g>
<g transform="translate(0,15)"><use id="h15-0" href="#s" class="k"/><use id="h15-1" href="#s" x="1"/><use id="h15-2" href="#s" x="2"/><use id="h15-3" href="#s" x="3"/><use id="h15-4" href="#s" x="4"/><use id="h15-5" href="#s" x="5"/><use id="h15-6" href="#s" x="6"/><use id="h15-7" href="#s" x="7" class="g"/><use id="h15-8" href="#s" x="8" class="g"/><use id="h15-9" href="#s" x="9"/><use id="h15-10" href="#s" x="10"/><use id="h15-11" href="#s" x="11"/><use id="h15-12" href="#s" x="12"/><use id="h15-13" href="#s" x="13"/><use id="h15-14" href="#s" x="14"/><use id="h15-15" href="#s" x="15" class="k"/></g>
</g>
<g class="c" stroke-width=".1">
<line class="d" x1=".29" y1="0" x2="14.71" y2="0"/>
<line class="d" x1="1.29" y1="1" x2="13.71" y2="1"/>
<line class="d" x1="2.29" y1="2" x2="12.71" y2="2"/>
<line class="d" x1="3.29" y1="3" x2="11.71" y2="3"/>
<line class="d" x1="4.29" y1="4" x2="10.71" y2="4"/>
<line class="d" x1="5.29" y1="5" x2="9.71" y2="5"/>
<line class="d" x1="6.29" y1="6" x2="8.71" y2="6"/>
<line class="d" x1="6.29" y1="9" x2="8.71" y2="9"/>
<line class="d" x1="5.29" y1="10" x2="9.71" y2="10"/>
<line class="d" x1="4.29" y1="11" x2="10.71" y2="11"/>
<line class="d" x1="3.29" y1="12" x2="11.71" y2="12"/>
<line class="d" x1="2.29" y1="13" x2="12.71" y2="13"/>
<line class="d" x1="1.29" y1="14" x2="13.71" y2="14"/>
<line class="d" x1=".29" y1="15" x2="14.71" y2="15"/>
<line class="d" x1="1" y1="6.29" x2="1" y2="8.71"/>
<line class="d" x1="2" y1="5.29" x2="2" y2="9.71"/>
<line class="d" x1="3" y1="4.29" x2="3" y2="10.71"/>
<line class="d" x1="4" y1="3.29" x2="4" y2="11.71"/>
<line class="d" x1="5" y1="2.29" x2="5" y2="12.71"/>
<line class="d" x1="6" y1="1.29" x2="6" y2="13.71"/>
<line class="d" x1="7" y1=".29" x2="7" y2="14.71"/>
<line class="d" x1="8" y1=".29" x2="8" y2="14.71"/>
<line class="d" x1="9" y1="1.29" x2="9" y2="13.71"/>
<line class="d" x1="10" y1="2.29" x2="10" y2="12.71"/>
<line class="d" x1="11" y1="3.29" x2="11" y2="11.71"/>
<line class="d" x1="12" y1="4.29" x2="12" y2="10.71"/>
<line class="d" x1="13" y1="5.29" x2="13" y2="9.71"/>
<line class="d" x1="14" y1="6.29" x2="14" y2="8.71"/>
<g stroke-width=".06">
<line class="t" x1="0" y1="7.29" x2="0" y2="7.71"/><line class="t" x1="15" y1="7.29" x2="15" y2="7.71"/>
<line class="t" x1="7.29" y1="7" x2="7.71" y2="7"/><line class="t" x1="7.29" y1="8" x2="7.71" y2="8"/>
</g>
</g>
</g>

<g id="captions">
<text x="15" y="141">(a) phase 1 step 1</text>
<text x="177" y="166">(b) phase 1 step 2</text>
<text x="441" y="141" text-anchor="middle">(c) phase 2 step 1</text>
<text x="578" y="166" text-anchor="middle">(d) phase 2 step 2</text>
<text x="63" y="425">(e) phase 3 step 1</text>
<text x="530" y="424" text-anchor="middle">(f) phase 3 step 2</text>
<text x="174" y="778" text-anchor="middle">(g) phase 4 step 1</text>
<text x="514" y="778" text-anchor="middle">(h) phase 4 step 2</text>
<text x="95" y="801">Figure 4: Diagram 1 2 (for phase 1) 2 (for 2, 3</text>
</g>
</svg>
